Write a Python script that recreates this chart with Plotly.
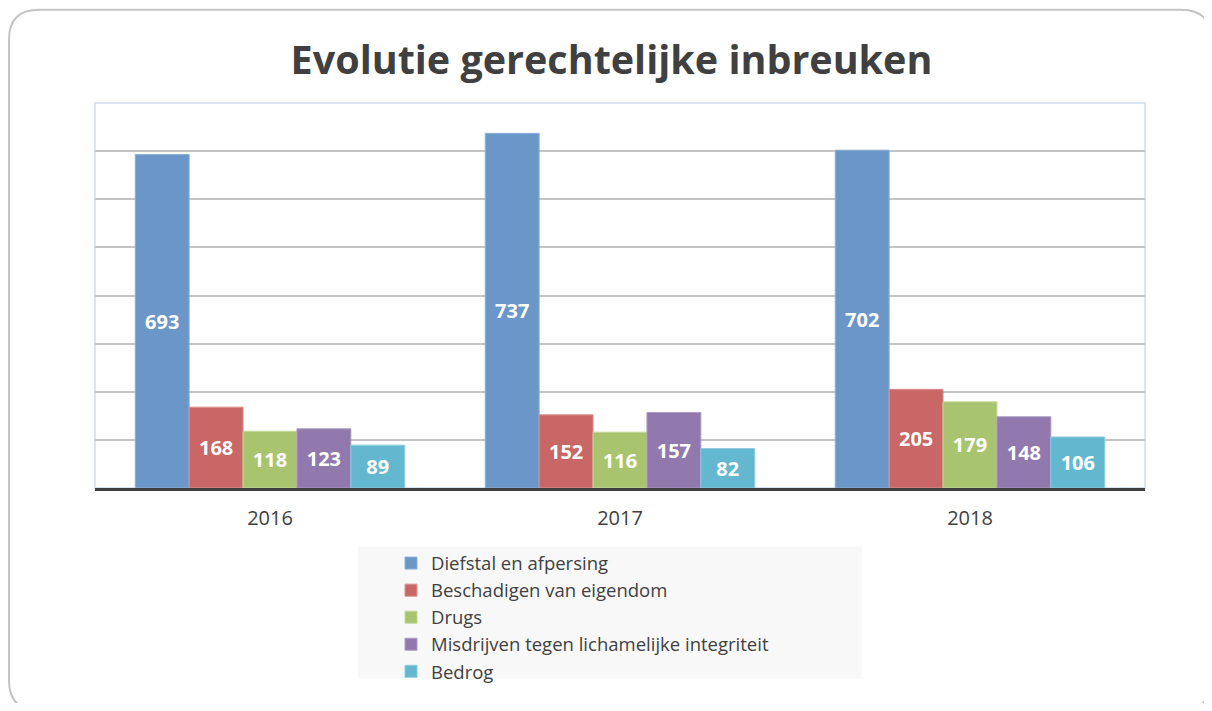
import plotly.graph_objects as go

years = ["2016", "2017", "2018"]
series_names = [
    "Diefstal en afpersing",
    "Beschadigen van eigendom",
    "Drugs",
    "Misdrijven tegen lichamelijke integriteit",
    "Bedrog",
]
diefstal = [693, 737, 702]
beschadigen = [168, 152, 205]
drugs = [118, 116, 179]
misdrijven = [123, 157, 148]
bedrog = [89, 82, 106]
values = [diefstal, beschadigen, drugs, misdrijven, bedrog]

fill_colors = ["#6a96c8", "#c96666", "#a9c46e", "#9179ae", "#63b8cf"]
edge_colors = ["#8fb0d8", "#dc8e8e", "#c3d89a", "#ad9bc4", "#8ccbdc"]

PAGE_W, PAGE_H = 1212, 711
OFF = 8    # default body margin of the html page
W, H = PAGE_W - 2 * OFF, PAGE_H - 2 * OFF
L, R, T, B = 95, 1145, 103, 491  # plot area in page pixels


def px(x):
    return (x - L) / (R - L)


def py(y):
    return (B - y) / (B - T)


fig = go.Figure()
for name, vals, fc, ec in zip(series_names, values, fill_colors, edge_colors):
    fig.add_trace(go.Bar(
        x=years, y=vals, name=name,
        marker=dict(color=fc, line=dict(color=ec, width=1)),
        text=[str(v) for v in vals],
        textposition="inside",
        insidetextanchor="middle",
        textangle=0,
        textfont=dict(family="Open Sans", size=20, color="white", weight="bold"),
        hoverinfo="skip",
    ))

# outer rounded border of chart container
x0, y0, x1, y1, r = 9, 9, 1211, 715, 30
path = (
    f"M {px(x0+r)} {py(y0)} L {px(x1-r)} {py(y0)} Q {px(x1)} {py(y0)} {px(x1)} {py(y0+r)} "
    f"L {px(x1)} {py(y1-r)} Q {px(x1)} {py(y1)} {px(x1-r)} {py(y1)} "
    f"L {px(x0+r)} {py(y1)} Q {px(x0)} {py(y1)} {px(x0)} {py(y1-r)} "
    f"L {px(x0)} {py(y0+r)} Q {px(x0)} {py(y0)} {px(x0+r)} {py(y0)} Z"
)

shapes = [
    dict(type="path", xref="paper", yref="paper", path=path,
         line=dict(color="#c4c4c4", width=2), layer="below"),
    # legend background
    dict(type="rect", xref="paper", yref="paper",
         x0=px(358), x1=px(862), y0=py(683), y1=py(550),
         fillcolor="#f8f8f8", line=dict(width=0), layer="below"),
    # plot area border
    dict(type="rect", xref="paper", yref="paper", x0=0, x1=1, y0=0, y1=1,
         line=dict(color="#dbe5f1", width=2), layer="below"),
]

fig.update_layout(
    width=W, height=H,
    margin=dict(l=L - OFF, r=PAGE_W - OFF - R, t=T - OFF, b=H + OFF - B, pad=0),
    paper_bgcolor="white",
    plot_bgcolor="white",
    barmode="group",
    bargap=0.23,
    bargroupgap=0,
    title=dict(
        text="<b>Evolutie gerechtelijke inbreuken</b>",
        x=(611.5 - OFF) / W, xanchor="center", y=1 - (60 - OFF) / H, yanchor="middle",
        font=dict(family="Open Sans", size=39.5, color="#404040"),
    ),
    xaxis=dict(
        showline=True, linecolor="#404040", linewidth=3,
        ticks="outside", ticklen=10, tickcolor="rgba(0,0,0,0)",
        tickfont=dict(family="Open Sans", size=20, color="#404040"),
        showgrid=False, zeroline=False,
    ),
    yaxis=dict(
        range=[0, 800], dtick=100, showticklabels=False,
        showgrid=True, gridcolor="#c4c4c4", gridwidth=1.5,
        zeroline=False, showline=False, fixedrange=True,
    ),
    legend=dict(
        orientation="v", x=px(391), xanchor="left", y=py(548), yanchor="top",
        bgcolor="rgba(0,0,0,0)",
        font=dict(family="Open Sans", size=18.5, color="#404040"),
        tracegroupgap=0, itemclick=False, itemdoubleclick=False,
    ),
    shapes=shapes,
    showlegend=True,
    uniformtext=dict(mode=False),
)

fig.write_html("out.html", config={"displayModeBar": False})
